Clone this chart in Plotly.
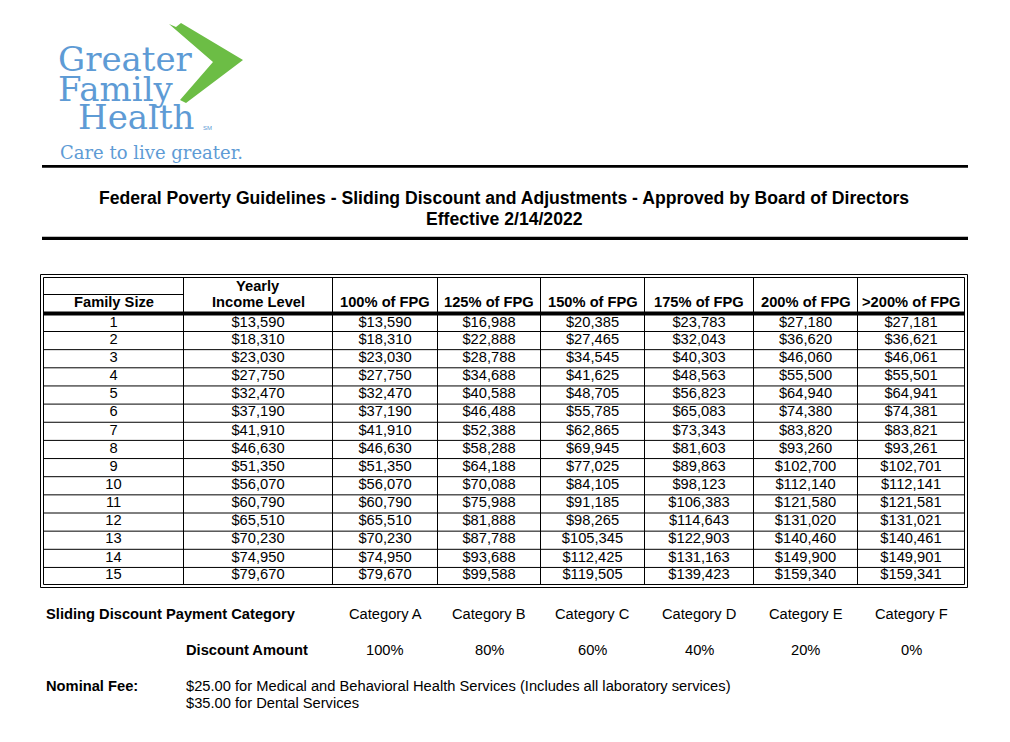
import plotly.graph_objects as go

# ---------------- data ----------------
family_size = [1, 2, 3, 4, 5, 6, 7, 8, 9, 10, 11, 12, 13, 14, 15]
income_level = [13590, 18310, 23030, 27750, 32470, 37190, 41910, 46630, 51350, 56070, 60790, 65510, 70230, 74950, 79670]
fpg_100 = [13590, 18310, 23030, 27750, 32470, 37190, 41910, 46630, 51350, 56070, 60790, 65510, 70230, 74950, 79670]
fpg_125 = [16988, 22888, 28788, 34688, 40588, 46488, 52388, 58288, 64188, 70088, 75988, 81888, 87788, 93688, 99588]
fpg_150 = [20385, 27465, 34545, 41625, 48705, 55785, 62865, 69945, 77025, 84105, 91185, 98265, 105345, 112425, 119505]
fpg_175 = [23783, 32043, 40303, 48563, 56823, 65083, 73343, 81603, 89863, 98123, 106383, 114643, 122903, 131163, 139423]
fpg_200 = [27180, 36620, 46060, 55500, 64940, 74380, 83820, 93260, 102700, 112140, 121580, 131020, 140460, 149900, 159340]
fpg_200_plus = [27181, 36621, 46061, 55501, 64941, 74381, 83821, 93261, 102701, 112141, 121581, 131021, 140461, 149901, 159341]

column_headers = ["Family Size", "Income Level", "100% of FPG", "125% of FPG", "150% of FPG",
                  "175% of FPG", "200% of FPG", ">200% of FPG"]
categories = ["Category A", "Category B", "Category C", "Category D", "Category E", "Category F"]
discounts = ["100%", "80%", "60%", "40%", "20%", "0%"]

title_line1 = "Federal Poverty Guidelines - Sliding Discount and Adjustments - Approved by Board of Directors"
title_line2 = "Effective 2/14/2022"
nominal_fees = ["$25.00 for Medical and Behavioral Health Services (Includes all laboratory services)",
                "$35.00 for Dental Services"]

# ---------------- layout constants ----------------
W, H = 1010, 742
OFF = 8  # page body margin compensation
SANS = "Liberation Sans, Arial, sans-serif"
SERIF = "DejaVu Serif, serif"
BLUE = "#5e9bd5"
GREEN = "#6cbd45"
FS = 14.7

col_edges = [43.5, 183.5, 332.5, 437.5, 540.5, 644.5, 753.5, 857.5, 964.5]
col_centers = [(col_edges[i] + col_edges[i + 1]) / 2 for i in range(len(col_edges) - 1)]
row_top = 315.5
first_line = 331.5
pitch = 18.15
row_bottom = 584.5
row_lines = [first_line + pitch * k for k in range(14)]
bounds = [row_top] + row_lines + [row_bottom]
row_centers = [(bounds[i] + bounds[i + 1]) / 2 - 0.5 for i in range(15)]

fig = go.Figure()

def money(v):
    return "${:,}".format(v)

columns = [
    [str(v) for v in family_size],
    [money(v) for v in income_level],
    [money(v) for v in fpg_100],
    [money(v) for v in fpg_125],
    [money(v) for v in fpg_150],
    [money(v) for v in fpg_175],
    [money(v) for v in fpg_200],
    [money(v) for v in fpg_200_plus],
]
for cx, texts in zip(col_centers, columns):
    fig.add_trace(go.Scatter(
        x=[cx] * len(texts), y=row_centers, text=texts, mode="text",
        textposition="middle center", textfont=dict(family=SANS, size=FS, color="black"),
        hoverinfo="skip", showlegend=False))

shapes = []
def line(x0, y0, x1, y1, w=1, color="black"):
    shapes.append(dict(type="line", xref="x", yref="y", x0=x0, y0=y0, x1=x1, y1=y1,
                       line=dict(color=color, width=w)))

# document rules
line(42, 166.3, 968, 166.3, w=2.8)
line(42, 238.3, 968, 238.3, w=3.3)

# table borders (double)
shapes.append(dict(type="rect", xref="x", yref="y", x0=40.5, y0=274.5, x1=967.5, y1=587.5,
                   line=dict(color="black", width=1)))
shapes.append(dict(type="rect", xref="x", yref="y", x0=col_edges[0], y0=277.5, x1=col_edges[-1], y1=row_bottom,
                   line=dict(color="black", width=1)))
# header sub-line in first column
line(col_edges[0], 294.5, col_edges[1], 294.5)
# thick header line
shapes.append(dict(type="rect", xref="x", yref="y", x0=col_edges[0], y0=311.5, x1=col_edges[-1], y1=315.5,
                   fillcolor="black", line=dict(width=0)))
# vertical separators
for xe in col_edges[1:-1]:
    line(xe, 277.5, xe, row_bottom)
# row separators
for yl in row_lines:
    line(col_edges[0], yl, col_edges[-1], yl)

# logo chevron
shapes.append(dict(type="path", xref="x", yref="y",
                   path="M 169 24 L 176 27 L 181 23 L 243 60 L 186 103 L 180 100 L 213 62 Z",
                   fillcolor=GREEN, line=dict(width=0)))

annotations = []
def text(x, y, s, size=FS, bold=False, xanchor="center", family=SANS, color="black", yanchor="middle"):
    annotations.append(dict(x=x, y=y, xref="x", yref="y", text=("<b>%s</b>" % s) if bold else s,
                            showarrow=False, xanchor=xanchor, yanchor=yanchor,
                            font=dict(family=family, size=size, color=color), borderpad=0))

# logo text
text(57, 59, "Greater", size=34, xanchor="left", family=SERIF, color=BLUE)
text(57, 89, "Family", size=34, xanchor="left", family=SERIF, color=BLUE)
text(77, 117, "Health", size=34, xanchor="left", family=SERIF, color=BLUE)
text(202, 128, "SM", size=6, xanchor="left", family=SANS, color=BLUE)
text(59, 152, "Care to live greater.", size=18, xanchor="left", family=SERIF, color=BLUE)

# titles
text(504, 198, title_line1, size=17.6, bold=True)
text(504, 219, title_line2, size=17.6, bold=True)

# table header
text(col_centers[1], 286, "Yearly", bold=True)
for cx, h in zip(col_centers, column_headers):
    text(cx, 302, h, bold=True)

# footer
text(45, 614, "Sliding Discount Payment Category", bold=True, xanchor="left")
text(185, 650, "Discount Amount", bold=True, xanchor="left")
for cx, c, d in zip(col_centers[2:], categories, discounts):
    text(cx, 614, c)
    text(cx, 650, d)
text(45, 686, "Nominal Fee:", bold=True, xanchor="left")
text(185, 686, nominal_fees[0], xanchor="left")
text(185, 703, nominal_fees[1], xanchor="left")

fig.update_layout(
    width=W - OFF, height=H - OFF, margin=dict(l=0, r=0, t=0, b=0),
    paper_bgcolor="white", plot_bgcolor="white",
    xaxis=dict(range=[OFF, W], visible=False, fixedrange=True),
    yaxis=dict(range=[H, OFF], visible=False, fixedrange=True),
    shapes=shapes, annotations=annotations, showlegend=False,
)
fig.write_html("out.html")
